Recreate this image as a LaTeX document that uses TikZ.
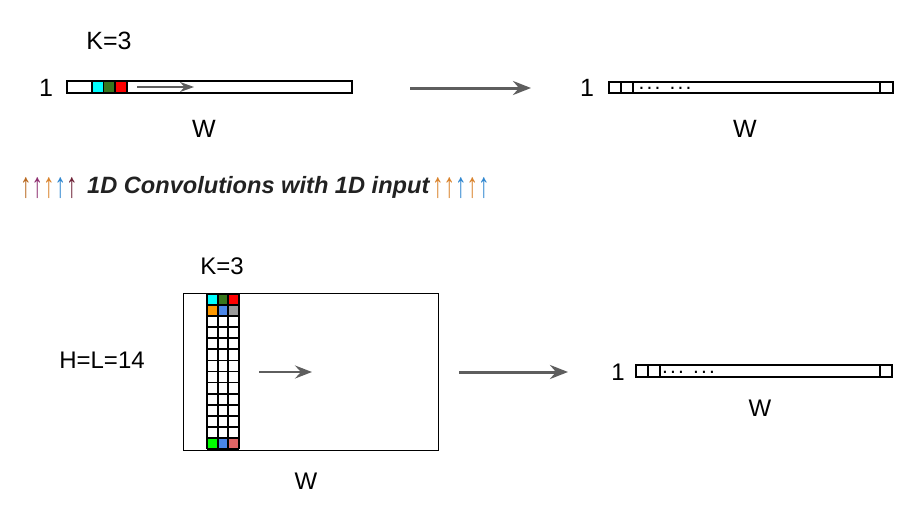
\documentclass[tikz,border=0pt]{standalone}
\usepackage{fontspec}
\setmainfont{Liberation Sans}
\usetikzlibrary{arrows.meta}
\definecolor{arr}{HTML}{5E5E5E}
\definecolor{cCyan}{HTML}{00FFFF}
\definecolor{cDGreen}{HTML}{38761D}
\definecolor{cRed}{HTML}{FF0000}
\definecolor{cOrange}{HTML}{FF9900}
\definecolor{cBlue}{HTML}{4A86E8}
\definecolor{cGray}{HTML}{999999}
\definecolor{cGreen}{HTML}{00FF00}
\definecolor{cPink}{HTML}{E06666}
\definecolor{titlec}{HTML}{222222}
\definecolor{aBrown}{HTML}{B8681F}
\definecolor{aPurple}{HTML}{8E2F70}
\definecolor{aOrange}{HTML}{D9822B}
\definecolor{aBlue}{HTML}{2F86CF}
\definecolor{aDRed}{HTML}{6E2236}
\newcommand{\uparrowglyph}[1]{\textcolor{#1}{\scalebox{1}[1.55]{↑}}}
\tikzset{
  lbl/.style={inner sep=0pt, font=\fontsize{25}{30}\selectfont},
  lblsm/.style={inner sep=0pt, font=\fontsize{24}{29}\selectfont},
  barbox/.style={draw=black, line width=1.4pt, rectangle, inner sep=0pt},
  cellbox/.style={draw=black, line width=1.4pt},
  bigarrow/.style={draw=arr, line width=3pt, -{Stealth[length=18pt,width=14pt,inset=6pt]}},
  smallarrow/.style={draw=arr, line width=2.2pt, -{Stealth[length=14pt,width=10pt,inset=4.5pt]}},
  midarrow/.style={draw=arr, line width=2.8pt, -{Stealth[length=17pt,width=13pt,inset=6pt]}},
  dots/.style={inner sep=0pt, anchor=base, font=\fontsize{21}{25}\selectfont},
  uparr/.style={inner sep=0pt, font=\fontsize{23}{28}\selectfont},
}
\newcommand{\dotrow}{.\kern2.2pt.\kern2.2pt.\kern9pt.\kern2.2pt.\kern2.2pt.}
\begin{document}
\begin{tikzpicture}[x=1pt,y=-1pt]
\useasboundingbox (0,0) rectangle (919,506);

% ---------- top-left 1D input ----------
\node[lbl] (k1) at (109,41) {K=3};
\node[lbl] (one1) at (46,88) {1};
\node[lbl] (w1) at (204,129) {W};
\fill[cCyan] (92,81) rectangle (103.5,93);
\fill[cDGreen] (103.5,81) rectangle (115,93);
\fill[cRed] (115,81) rectangle (127,93);
\draw[cellbox] (92,81) rectangle (103.5,93);
\draw[cellbox] (103.5,81) rectangle (115,93);
\draw[cellbox] (115,81) rectangle (127,93);
\node[barbox, minimum width=285pt, minimum height=12pt] (bar1) at (209.5,87) {};
\coordinate (ia1) at (137,87);
\coordinate (ib1) at (194,87);
\draw[smallarrow] (ia1) -- (ib1);

% top arrow
\coordinate (ta) at (410,88);
\coordinate (tb) at (531,88);
\draw[bigarrow] (ta) -- (tb);

% ---------- top-right output ----------
\node[lbl] (one2) at (587,88) {1};
\node[lbl] (w2) at (745,129) {W};
\node[barbox, minimum width=284pt, minimum height=11pt] (bar2) at (751,87.5) {};
\draw[cellbox] (621,82) -- (621,93);
\draw[cellbox] (633,82) -- (633,93);
\draw[cellbox] (880,82) -- (880,93);
\node[dots] (d2) at (665,89.5) {\dotrow};

% ---------- title ----------
\node[uparr, anchor=west] (ul) at (20,188) {\uparrowglyph{aBrown}\uparrowglyph{aPurple}\uparrowglyph{aOrange}\uparrowglyph{aBlue}\uparrowglyph{aDRed}};
\node[inner sep=0pt, anchor=west, text=titlec, font=\fontsize{23.6}{28}\bfseries\itshape\selectfont] (title) at (87,187) {1D Convolutions with 1D input};
\node[uparr, anchor=west] (ur) at (432,188) {\uparrowglyph{aOrange}\uparrowglyph{aOrange}\uparrowglyph{aBlue}\uparrowglyph{aOrange}\uparrowglyph{aBlue}};

% ---------- bottom-left 2D input ----------
\node[lblsm] (k3) at (222,266) {K=3};
\node[lblsm] (hl) at (102,360) {H=L=14};
\node[lblsm] (w3) at (306,481) {W};
\node[draw=black, line width=1pt, rectangle, inner sep=0pt, minimum width=255pt, minimum height=157pt] (img) at (310.5,371.5) {};
% colored kernel cells
\fill[cCyan]   (207,294) rectangle (217.67,305.07);
\fill[cDGreen] (217.67,294) rectangle (228.33,305.07);
\fill[cRed]    (228.33,294) rectangle (239,305.07);
\fill[cOrange] (207,305.07) rectangle (217.67,316.14);
\fill[cBlue]   (217.67,305.07) rectangle (228.33,316.14);
\fill[cGray]   (228.33,305.07) rectangle (239,316.14);
\fill[cGreen]  (207,437.93) rectangle (217.67,449);
\fill[cBlue]   (217.67,437.93) rectangle (228.33,449);
\fill[cPink]   (228.33,437.93) rectangle (239,449);
% grid lines
\foreach \i in {0,...,14} {
  \draw[line width=1.8pt] (207,294+\i*11.0714) -- (239,294+\i*11.0714);
}
\foreach \j in {0,...,3} {
  \draw[line width=1.8pt] (207+\j*10.6667,294) -- (207+\j*10.6667,449);
}
\coordinate (ia2) at (259,372);
\coordinate (ib2) at (312,372);
\draw[midarrow] (ia2) -- (ib2);

% bottom arrow
\coordinate (ba) at (459,372);
\coordinate (bb) at (568,372);
\draw[bigarrow] (ba) -- (bb);

% ---------- bottom-right output ----------
\node[lblsm] (one4) at (618,372) {1};
\node[lblsm] (w4) at (760,408) {W};
\node[barbox, minimum width=256pt, minimum height=12pt] (bar4) at (764,371) {};
\draw[cellbox] (648,365) -- (648,377);
\draw[cellbox] (660,365) -- (660,377);
\draw[cellbox] (880,365) -- (880,377);
\node[dots] (d4) at (688.5,373) {\dotrow};
\end{tikzpicture}
\end{document}
